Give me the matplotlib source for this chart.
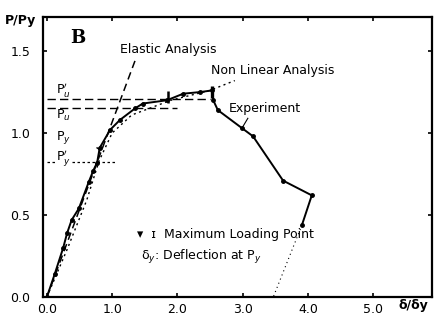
import matplotlib
matplotlib.use('Agg')
import matplotlib.pyplot as plt

# experiment curve
exp_x = [0, 0.12, 0.25, 0.31, 0.38, 0.49, 0.64, 0.71, 0.77, 0.81, 0.97, 1.12,
         1.35, 1.47, 1.84, 2.09, 2.35, 2.53, 2.55, 2.62, 2.99, 3.16, 3.62, 4.06, 3.91]
exp_y = [0, 0.14, 0.30, 0.39, 0.47, 0.54, 0.70, 0.77, 0.82, 0.91, 1.02, 1.08,
         1.15, 1.18, 1.20, 1.24, 1.25, 1.26, 1.20, 1.14, 1.03, 0.98, 0.71, 0.62, 0.44]
tail_x = [3.91, 3.47]
tail_y = [0.44, 0.0]

nl_x = [0, 0.31, 0.61, 0.80, 1.0, 1.3, 1.9, 2.5, 2.88]
nl_y = [0, 0.29, 0.59, 0.83, 1.0, 1.11, 1.20, 1.26, 1.32]

el_x = [0, 1.35]
el_y = [0, 1.44]

Pu_p = 1.207   # P'u
Pu = 1.152
Py_p = 0.823   # P'y

max_an = (1.86, 1.22)
max_exp = (2.53, 1.25)
yield_pt = (0.80, 0.90)

xticks = [0, 1, 2, 3, 4, 5]
xlabels = ['0.0', '1.0', '2.0', '3.0', '4.0', '5.0']
yticks = [0, 0.5, 1.0, 1.5]
ylabels = ['0.0', '0.5', '1.0', '1.5']

fig = plt.figure(figsize=(4.34, 3.17), dpi=100)
ax = fig.add_axes([0.099, 0.063, 0.896, 0.883])
ax.set_xlim(-0.06, 5.9)
ax.set_ylim(0, 1.707)

ax.plot(exp_x, exp_y, color='black', lw=1.4, marker='o', ms=2.5)
ax.plot(tail_x, tail_y, color='black', lw=0.8, ls=(0, (1, 3)))
ax.plot(nl_x, nl_y, color='black', lw=1.0, ls=(0, (1.5, 2.5)))
ax.plot(el_x, el_y, color='black', lw=1.1, ls=(0, (5, 3)))

ax.plot([0, 2.5], [Pu_p, Pu_p], color='black', lw=1.0, ls=(0, (6, 3)))
ax.plot([0, 2.0], [Pu, Pu], color='black', lw=1.0, ls=(0, (6, 3)))
ax.plot([0, 1.04], [Py_p, Py_p], color='black', lw=0.9, ls=(0, (2, 2)))

ax.plot(*max_an, marker='|', ms=9, mew=1.8, color='black')
ax.plot(*max_exp, marker='|', ms=9, mew=2.4, color='black')
ax.plot(*yield_pt, marker='1', ms=6, mew=1.0, color='black')
ax.plot([2.99, 3.08], [1.03, 1.09], color='black', lw=0.8)

fs = 9
ax.text(0.14, 1.26, "P$_u'$", fontsize=fs, va='center')
ax.text(0.14, 1.11, "P$_u$", fontsize=fs, va='center')
ax.text(0.14, 0.975, "P$_y$", fontsize=fs, va='center')
ax.text(0.14, 0.85, "P$_y'$", fontsize=fs, va='center',
        bbox=dict(facecolor='white', edgecolor='none', pad=0.5))

ax.text(0.35, 1.58, 'B', fontsize=13, fontweight='bold', family='DejaVu Serif', va='center')
ax.text(1.12, 1.51, 'Elastic Analysis', fontsize=fs, va='center')
ax.text(2.52, 1.38, 'Non Linear Analysis', fontsize=fs, va='center')
ax.text(2.78, 1.15, 'Experiment', fontsize=fs, va='center')
ax.text(1.38, 0.38, '▾  ɪ  Maximum Loading Point', fontsize=fs, va='center')
ax.text(1.45, 0.245, 'δ$_y$: Deflection at P$_y$', fontsize=fs, va='center')

ax.set_xticks(xticks)
ax.set_xticklabels(xlabels)
ax.set_yticks(yticks)
ax.set_yticklabels(ylabels)
ax.tick_params(direction='in', top=True, right=True, length=3, width=1.2,
               labelsize=fs)
ax.tick_params(axis='y', pad=9)
ax.tick_params(axis='x', pad=4)
for s in ax.spines.values():
    s.set_linewidth(1.6)

fig.text(0.012, 0.935, 'P/Py', fontsize=fs, fontweight='bold', va='center')
fig.text(0.918, 0.035, 'δ/δy', fontsize=fs, fontweight='bold', va='center')

fig.savefig('out.png', dpi=100)
